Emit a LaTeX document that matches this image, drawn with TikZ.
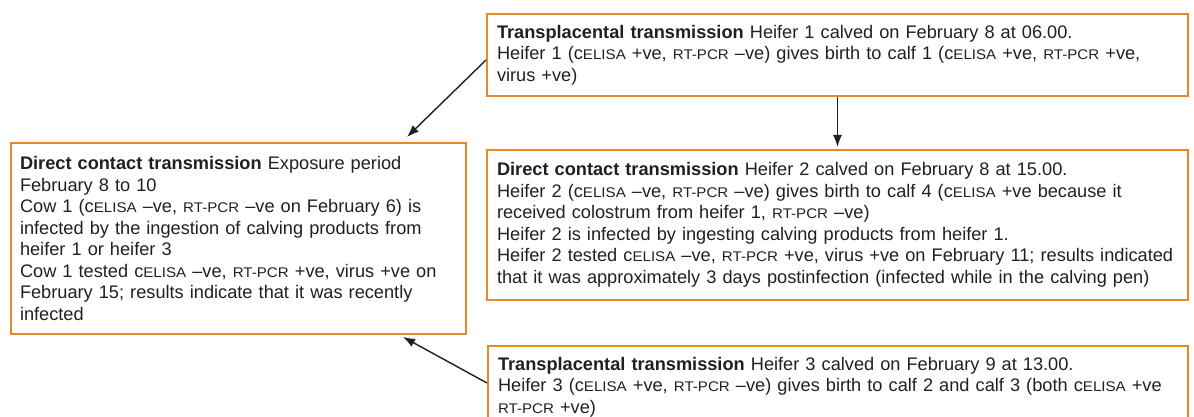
\documentclass[tikz,border=0pt]{standalone}
\usepackage{fontspec}
\setmainfont{Liberation Sans}
\usepackage{xcolor}
\usetikzlibrary{arrows.meta}
\definecolor{boxorange}{RGB}{228,138,38}
\definecolor{inkgray}{RGB}{35,31,32}
\hyphenpenalty=10000
% wide small capitals for the test names
\newcommand{\sm}[1]{\scalebox{1.08}[1]{\fontsize{14}{21.5}\selectfont #1}}
\newcommand{\elisa}{c\sm{ELISA}}
\newcommand{\rtpcr}{\sm{RT-PCR}}

\begin{document}
\begin{tikzpicture}[x=1pt,y=1pt,
  event/.style={draw=boxorange, line width=2pt, anchor=north west, align=left,
    inner xsep=10pt, inner ysep=0pt, text=inkgray,
    font=\fontsize{18.2}{21.5}\selectfont},
  link/.style={-{Latex[length=12pt,width=9pt]}, line width=1.4pt, draw=inkgray}]
\useasboundingbox (0,0) rectangle (1194,-417);

\node[event, text width=681pt, minimum height=82pt] (heiferone) at (486,-13)
{\textbf{Transplacental transmission} Heifer 1 calved on February 8 at 06.00.\\
Heifer 1 (\elisa{} +ve, \rtpcr{} –ve) gives birth to calf 1 (\elisa{} +ve, \rtpcr{} +ve,\\
virus +ve)};
\node[event, text width=437pt, inner xsep=9pt, minimum height=191pt] (cowone) at (10,-142)
{\textbf{Direct contact transmission} Exposure period\\
February 8 to 10\\
Cow 1 (\elisa{} –ve, \rtpcr{} –ve on February 6) is\\
infected by the ingestion of calving products from\\
heifer 1 or heifer 3\\
Cow 1 tested \elisa{} –ve, \rtpcr{} +ve, virus +ve on\\
February 15; results indicate that it was recently\\
infected};
\node[event, text width=681pt, minimum height=150pt] (heifertwo) at (486,-149)
{\textbf{Direct contact transmission} Heifer 2 calved on February 8 at 15.00.\\
Heifer 2 (\elisa{} –ve, \rtpcr{} –ve) gives birth to calf 4 (\elisa{} +ve because it\\
received colostrum from heifer 1, \rtpcr{} –ve)\\
Heifer 2 is infected by ingesting calving products from heifer 1.\\
Heifer 2 tested \elisa{} –ve, \rtpcr{} +ve, virus +ve on February 11; results indicated\\
that it was approximately 3 days postinfection (infected while in the calving pen)};
\node[event, text width=680pt, minimum height=82pt] (heiferthree) at (487,-345)
{\textbf{Transplacental transmission} Heifer 3 calved on February 9 at 13.00.\\
Heifer 3 (\elisa{} +ve, \rtpcr{} –ve) gives birth to calf 2 and calf 3 (both \elisa{} +ve\\
\rtpcr{} +ve)};

\draw[link] ([yshift=-5pt]heiferone.west) -- ([xshift=-60pt,yshift=5pt]cowone.north east);
\draw[link, shorten >=2pt] (heiferone.south) -- (heifertwo.north);
\draw[link] ([yshift=4pt]heiferthree.west) -- ([xshift=-64pt,yshift=-2pt]cowone.south east);
\end{tikzpicture}
\end{document}
